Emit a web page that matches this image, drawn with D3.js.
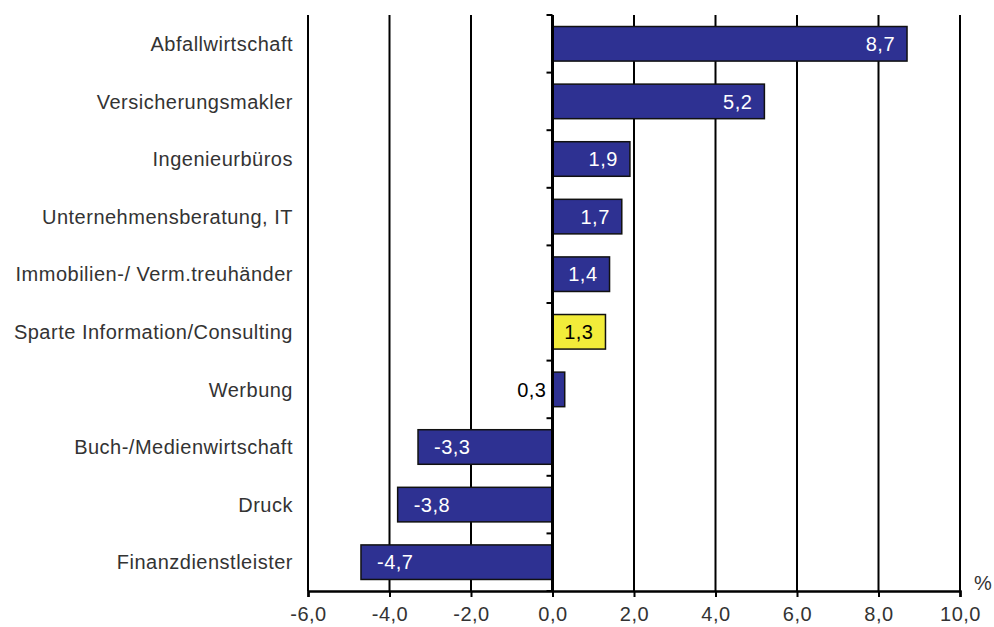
<!DOCTYPE html>
<html>
<head>
<meta charset="utf-8">
<script src="https://cdn.jsdelivr.net/npm/d3@7"></script>
<style>
  body { margin: 0; background: #fff; }
  text { font-family: "Liberation Sans", Arial, sans-serif; letter-spacing: 0.5px; }
</style>
</head>
<body>
<div id="chart"></div>
<script>
let categories = ["Abfallwirtschaft", "Versicherungsmakler", "Ingenieurbüros",
    "Unternehmensberatung, IT", "Immobilien-/ Verm.treuhänder",
    "Sparte Information/Consulting", "Werbung", "Buch-/Medienwirtschaft",
    "Druck", "Finanzdienstleister"]
let values = [8.7, 5.2, 1.9, 1.7, 1.4, 1.3, 0.3, -3.3, -3.8, -4.7]
let highlight = "Sparte Information/Consulting"
let xTicks = [-6, -4, -2, 0, 2, 4, 6, 8, 10]

var width = 994, height = 627
var margin = { top: 15, right: 34, bottom: 36, left: 308 }
var innerW = width - margin.left - margin.right,
    innerH = height - margin.top - margin.bottom
var fontSize = 20

var svg = d3.select("#chart")
    .append("svg")
    .attr("width", width)
    .attr("height", height)

var g = svg.append("g")
    .attr("transform", "translate(" + margin.left + "," + margin.top + ")")

var x = d3.scaleLinear().domain([-6, 10]).range([0, innerW])
var y = d3.scaleBand().domain(categories).range([0, innerH]).paddingInner(0.4).paddingOuter(0.2)

// German format, plain hyphen for negatives
var fmt = (v) => v.toFixed(1).replace(".", ",")

// vertical gridlines
g.selectAll(".grid")
    .data(xTicks.filter(t => t != 0))
    .enter().append("line")
    .attr("x1", d => x(d)).attr("x2", d => x(d))
    .attr("y1", 0).attr("y2", innerH)
    .attr("stroke", "#000")
    .attr("stroke-width", 2)

// x axis
var xAxis = g.append("g")
    .attr("transform", "translate(0," + innerH + ")")
    .call(d3.axisBottom(x).tickValues(xTicks).tickFormat(fmt).tickSize(6).tickPadding(10))
xAxis.select(".domain").attr("stroke-width", 2.5)
xAxis.selectAll(".tick line").attr("stroke-width", 2)
xAxis.selectAll("text")
    .attr("font-size", fontSize)
    .attr("fill", "#333")
    .attr("font-family", "Liberation Sans, Arial, sans-serif")

// bars
g.selectAll(".bar")
    .data(values)
    .enter().append("rect")
    .attr("x", d => x(Math.min(0, d)))
    .attr("y", (d, i) => y(categories[i]))
    .attr("width", d => Math.abs(x(d) - x(0)))
    .attr("height", y.bandwidth())
    .attr("fill", (d, i) => categories[i] == highlight ? "#F2EC3A" : "#2E3192")
    .attr("stroke", "#111")
    .attr("stroke-width", 1.5)

// value labels
var small = (d) => Math.abs(x(d) - x(0)) < 40
g.selectAll(".val")
    .data(values)
    .enter().append("text")
    .attr("x", d => {
        if (small(d)) return x(0) - 6
        return d > 0 ? x(d) - 12 : x(d) + 16
    })
    .attr("y", (d, i) => y(categories[i]) + y.bandwidth() / 2)
    .attr("dy", "0.36em")
    .attr("text-anchor", d => (small(d) || d > 0) ? "end" : "start")
    .attr("font-size", fontSize)
    .attr("fill", (d, i) => {
        if (small(d)) return "#000"
        return categories[i] == highlight ? "#000" : "#fff"
    })
    .text(d => fmt(d))

// zero axis with small ticks on band boundaries
g.append("line")
    .attr("x1", x(0)).attr("x2", x(0))
    .attr("y1", 0).attr("y2", innerH)
    .attr("stroke", "#000")
    .attr("stroke-width", 3)
var step = innerH / categories.length
g.append("g")
    .attr("transform", "translate(" + x(0) + ",0)")
    .selectAll("line")
    .data(d3.range(categories.length + 1))
    .enter().append("line")
    .attr("x1", -6).attr("x2", 0)
    .attr("y1", d => d * step).attr("y2", d => d * step)
    .attr("stroke", "#000")
    .attr("stroke-width", 2)

// category labels
svg.selectAll(".cat")
    .data(categories)
    .enter().append("text")
    .attr("x", 293)
    .attr("y", d => margin.top + y(d) + y.bandwidth() / 2)
    .attr("dy", "0.36em")
    .attr("text-anchor", "end")
    .attr("font-size", fontSize)
    .attr("fill", "#333")
    .text(d => d)

// unit
svg.append("text")
    .attr("x", 974)
    .attr("y", 590)
    .attr("font-size", fontSize)
    .attr("fill", "#333")
    .text("%")
</script>
</body>
</html>
